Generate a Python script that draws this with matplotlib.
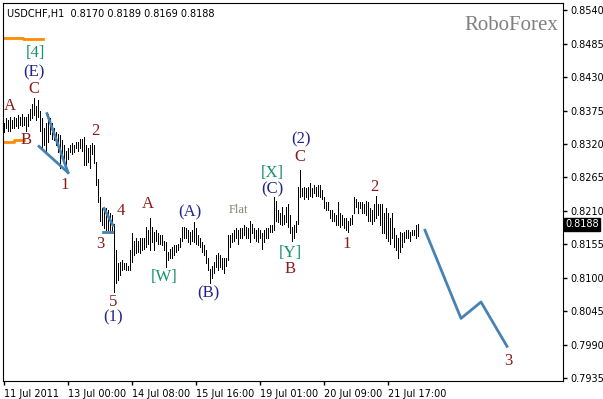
import matplotlib
matplotlib.use("Agg")
import matplotlib.pyplot as plt
import matplotlib.transforms as mtransforms

# hourly bars, USDCHF H1
high = [
    .8355, .8362, .8359, .8364, .8360, .8365, .8362, .8367, .8364, .8369,
    .8365, .8364, .8370, .8378, .8385, .8396, .8383, .8392, .8375, .8362,
    .8346, .8354, .8370, .8362, .8354, .8347, .8339, .8337, .8334, .8326,
    .8318, .8309, .8313, .8318, .8321, .8318, .8323, .8324, .8329, .8329,
    .8331, .8318, .8314, .8318, .8321, .8318, .8290, .8263, .8232, .8214,
    .8211, .8214, .8211, .8207, .8203, .8189, .8145, .8124, .8125, .8129,
    .8124, .8124, .8120, .8145, .8173, .8161, .8165, .8161, .8165, .8166,
    .8165, .8183, .8178, .8198, .8183, .8175, .8178, .8173, .8170, .8170,
    .8161, .8158, .8142, .8148, .8150, .8153, .8153, .8156, .8166, .8183,
    .8183, .8181, .8178, .8175, .8178, .8191, .8181, .8170, .8165, .8158,
    .8153, .8145, .8132, .8115, .8120, .8125, .8137, .8140, .8137, .8133,
    .8133, .8133, .8170, .8170, .8173, .8178, .8181, .8178, .8181, .8181,
    .8186, .8183, .8181, .8193, .8189, .8181, .8178, .8181, .8178, .8173,
    .8178, .8181, .8181, .8186, .8186, .8232, .8227, .8211, .8207, .8216,
    .8203, .8216, .8222, .8203, .8183, .8186, .8194, .8249, .8277, .8247,
    .8249, .8247, .8249, .8255, .8247, .8252, .8249, .8252, .8252, .8244,
    .8232, .8224, .8224, .8211, .8211, .8206, .8203, .8224, .8206, .8203,
    .8199, .8198, .8194, .8199, .8203, .8233, .8230, .8224, .8224, .8224,
    .8222, .8227, .8224, .8214, .8211, .8222, .8235, .8222, .8222, .8222,
    .8206, .8214, .8206, .8199, .8206, .8181, .8170, .8166, .8175, .8173,
    .8175, .8178, .8178, .8175, .8178, .8178, .8186, .8189,
]
low = [
    .8339, .8346, .8342, .8342, .8347, .8346, .8349, .8347, .8351, .8349,
    .8352, .8342, .8349, .8359, .8362, .8367, .8359, .8364, .8342, .8313,
    .8318, .8309, .8323, .8337, .8329, .8326, .8318, .8306, .8281, .8301,
    .8293, .8280, .8296, .8306, .8304, .8306, .8313, .8309, .8313, .8309,
    .8285, .8285, .8290, .8281, .8304, .8288, .8252, .8224, .8194, .8186,
    .8181, .8178, .8178, .8173, .8173, .8076, .8091, .8096, .8104, .8112,
    .8115, .8112, .8112, .8112, .8125, .8137, .8140, .8142, .8140, .8145,
    .8148, .8150, .8156, .8145, .8158, .8145, .8161, .8156, .8156, .8153,
    .8145, .8117, .8129, .8132, .8133, .8137, .8142, .8145, .8150, .8161,
    .8166, .8165, .8158, .8156, .8161, .8158, .8156, .8153, .8150, .8142,
    .8137, .8124, .8112, .8092, .8099, .8107, .8117, .8112, .8117, .8115,
    .8107, .8120, .8129, .8150, .8158, .8161, .8165, .8156, .8165, .8166,
    .8170, .8165, .8165, .8158, .8173, .8166, .8161, .8158, .8165, .8148,
    .8158, .8165, .8166, .8175, .8175, .8178, .8194, .8191, .8189, .8186,
    .8189, .8191, .8183, .8173, .8161, .8166, .8175, .8189, .8232, .8235,
    .8230, .8232, .8230, .8235, .8232, .8240, .8235, .8235, .8232, .8230,
    .8214, .8211, .8211, .8198, .8194, .8194, .8186, .8186, .8183, .8186,
    .8181, .8178, .8175, .8186, .8189, .8207, .8216, .8207, .8214, .8206,
    .8207, .8203, .8194, .8194, .8189, .8194, .8199, .8203, .8186, .8173,
    .8173, .8166, .8161, .8156, .8166, .8150, .8145, .8133, .8142, .8150,
    .8158, .8166, .8165, .8161, .8170, .8170, .8165, .8169,
]
last_price = 0.8188

# forecast path
fc_x = [210.5, 228.5, 238.5, 251.5]
fc_y = [0.8178, 0.8033, 0.8060, 0.7987]

# wave lines drawn on chart
wedge_upper = ([21.5, 32], [0.8370, 0.8273])
wedge_lower = ([17.5, 32], [0.8316, 0.8273])
small_curve = ([50, 54.5], [0.8214, 0.8186])
small_flat = ([49.5, 54], [0.8175, 0.8175])
orange_top = ([-0.5, 9.5, 9.5, 19.5], [0.8494, 0.8494, 0.8492, 0.8492])
orange_mid = ([-0.5, 5, 5, 10], [0.8324, 0.8324, 0.8326, 0.8326])

yticks = [0.7935, 0.7990, 0.8045, 0.8100, 0.8155, 0.8210, 0.8265,
          0.8320, 0.8375, 0.8430, 0.8485, 0.8540]
xtick_pos = [0, 32, 64, 96, 128, 160, 192]
xtick_lab = ["11 Jul 2011", "13 Jul 00:00", "14 Jul 08:00", "15 Jul 16:00",
             "19 Jul 01:00", "20 Jul 09:00", "21 Jul 17:00"]

RED = "#8b1a1a"
NAVY = "#23238e"
GRN = "#12906a"
labels = [
    ("[4]", 15.5, 0.8470, GRN), ("(E)", 15, 0.8438, NAVY), ("C", 15, 0.8410, RED),
    ("A", 3, 0.8383, RED), ("B", 11, 0.8326, RED), ("2", 45.5, 0.8341, RED),
    ("1", 30.5, 0.8253, RED), ("4", 58.5, 0.8209, RED), ("3", 48, 0.8156, RED),
    ("5", 54.5, 0.8060, RED), ("(1)", 54.5, 0.8035, NAVY), ("A", 72, 0.8221, RED),
    ("[W]", 80, 0.8101, GRN), ("(A)", 93, 0.8207, NAVY), ("(B)", 102, 0.8074, NAVY),
    ("[X]", 134, 0.8272, GRN), ("(C)", 134, 0.8245, NAVY), ("C", 148, 0.8298, RED),
    ("(2)", 148.5, 0.8327, NAVY), ("[Y]", 143, 0.8140, GRN), ("B", 143, 0.8115, RED),
    ("1", 171.5, 0.8156, RED), ("2", 185, 0.8249, RED), ("3", 252, 0.7963, RED),
]

fig = plt.figure(figsize=(6.03, 3.99), dpi=100)
ax = fig.add_axes([3 / 603, 18 / 399, 560 / 603, 378 / 399])

x = list(range(len(high)))
ax.vlines(x, low, high, color="black", linewidth=0.72, antialiased=False)

ax.plot(fc_x, fc_y, color="#4682b4", linewidth=2)
for lx, ly in (wedge_upper, wedge_lower, small_curve, small_flat):
    ax.plot(lx, ly, color="#4682b4", linewidth=2)
for lx, ly in (orange_top, orange_mid):
    ax.plot(lx, ly, color="#ff8c00", linewidth=2)

for txt, lx, ly, col in labels:
    ax.text(lx, ly, txt, color=col, fontsize=12, family="Liberation Serif",
            ha="center", va="center")
ax.text(117, 0.8211, "Flat", color="#8c7f70", fontsize=9,
        family="Liberation Serif", ha="center", va="center")

ax.set_xlim(-0.5, 279.5)
ax.set_ylim(0.7930, 0.8552)

ax.yaxis.tick_right()
ax.set_yticks(yticks)
ax.set_yticklabels([f"{v:.4f}" for v in yticks])
ax.set_xticks(xtick_pos)
ax.set_xticklabels(xtick_lab)
for lab in ax.get_xticklabels():
    lab.set_ha("left")
ax.tick_params(axis="both", labelsize=7, length=3, width=1, pad=2)
ax.tick_params(axis="x", pad=3)

trans = mtransforms.blended_transform_factory(ax.transAxes, ax.transData)
ax.text(1.004, last_price, f"{last_price:.4f}", transform=trans, color="white",
        fontsize=7, va="center", ha="left",
        bbox=dict(boxstyle="square,pad=0.15", fc="black", ec="black"))

ax.text(0.008, 0.985, "USDCHF,H1  0.8170 0.8189 0.8169 0.8188", transform=ax.transAxes,
        fontsize=7, va="top", ha="left")
ax.text(0.992, 0.965, "RoboForex", transform=ax.transAxes, color="#808080",
        fontsize=15, family="Liberation Serif", va="top", ha="right")

fig.savefig("out.png", dpi=100)
